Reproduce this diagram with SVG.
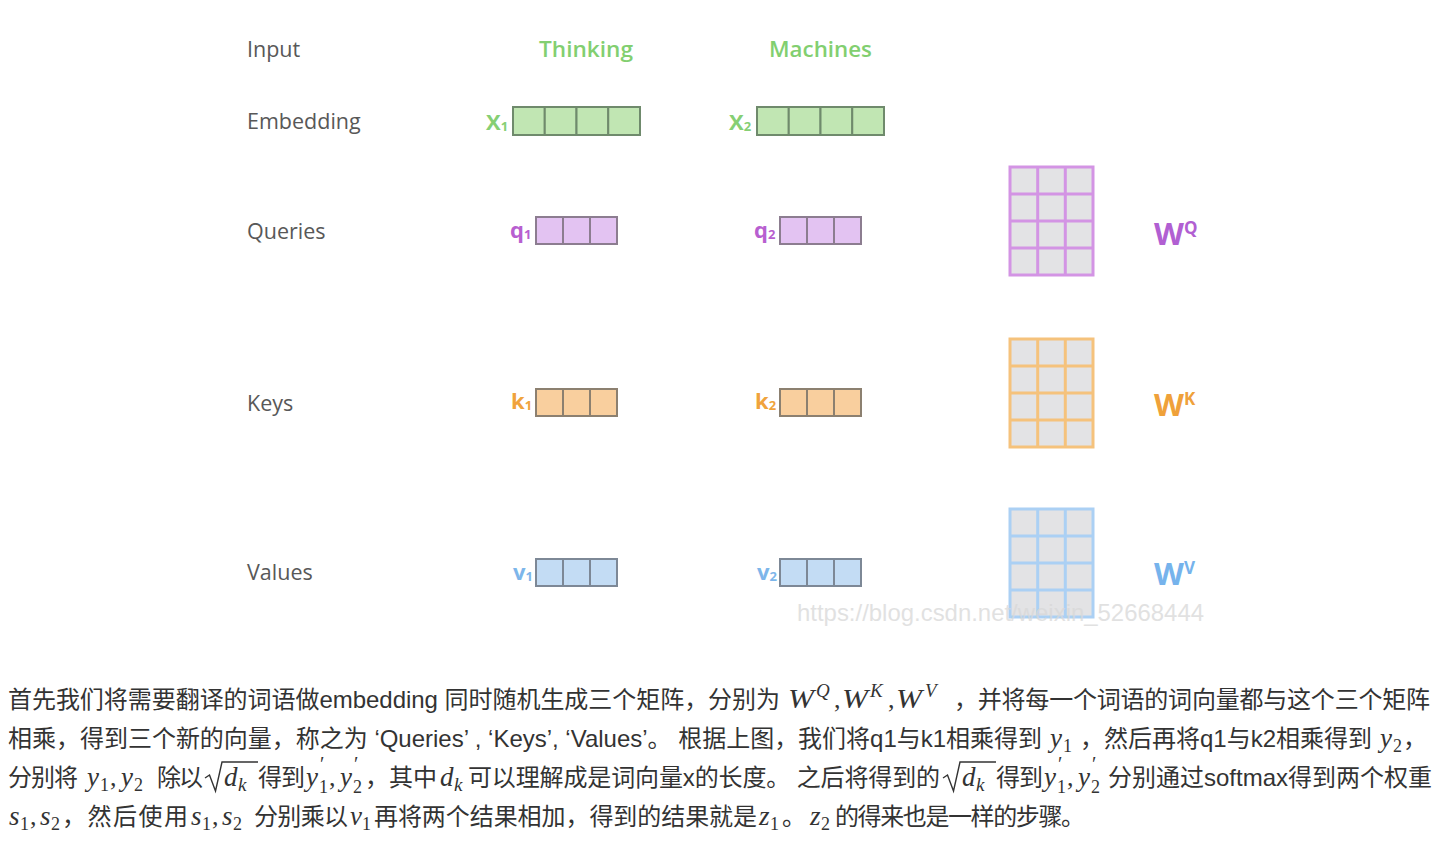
<svg xmlns="http://www.w3.org/2000/svg" width="1440" height="841" viewBox="0 0 1440 841">
<style>
.lbl{font-family:"Open Sans","Noto Sans",sans-serif;font-size:21.5px;font-weight:500;fill:#585858}
.word{font-family:"Open Sans","Noto Sans",sans-serif;font-size:22px;font-weight:600;fill:#82cf70}
.sym{font-family:"Open Sans","Noto Sans",sans-serif;font-weight:700;font-size:22px}
.sub{font-size:13px}
.cellG{fill:#c1e6b3;stroke:#6f8a6c;stroke-width:2}
.cellQ{fill:#e3c3f2;stroke:#8c7d90;stroke-width:2}
.cellK{fill:#f9cf9e;stroke:#8c8070;stroke-width:2}
.cellV{fill:#c3dcf4;stroke:#7d8896;stroke-width:2}
.mQ{fill:#e3e3e5;stroke:#d394e4;stroke-width:3}
.mK{fill:#e3e3e5;stroke:#f5c27c;stroke-width:3}
.mV{fill:#e3e3e5;stroke:#abd0f4;stroke-width:3}
.W{font-family:"Open Sans","Noto Sans",sans-serif;font-weight:700;font-size:31px}
.Wsup{font-size:17px}
.p{font-family:"Liberation Sans","Noto Sans CJK SC",sans-serif;font-size:24px;fill:#333}
.m{font-family:"Liberation Serif",serif;font-style:italic;font-size:27px;fill:#333}
.mc{font-family:"Liberation Serif",serif;font-size:26px;fill:#333}
.ms{font-family:"Liberation Serif",serif;font-size:18px;fill:#333}
.mi{font-family:"Liberation Serif",serif;font-style:italic;font-size:19px;fill:#333}
.pr{font-family:"Liberation Serif",serif;font-size:20px;fill:#333}
.rad{fill:none;stroke:#333;stroke-width:1.4;stroke-linejoin:miter}
.wm{font-family:"Liberation Sans",Arial,sans-serif;font-size:24px;fill:#d8d8d8;opacity:0.75}
</style>
<defs>
<g id="vec4">
<rect x="0" y="0" width="31.75" height="28"/>
<rect x="31.75" y="0" width="31.75" height="28"/>
<rect x="63.5" y="0" width="31.75" height="28"/>
<rect x="95.25" y="0" width="31.75" height="28"/>
</g>
<g id="vec3">
<rect x="0" y="0" width="27" height="27"/>
<rect x="27" y="0" width="27" height="27"/>
<rect x="54" y="0" width="27" height="27"/>
</g>
<g id="mat">
<rect x="0" y="0" width="83" height="108"/>
<path d="M27.7 0V108M55.3 0V108M0 27H83M0 54H83M0 81H83" fill="none"/>
</g>
</defs>

<g id="row-labels">
<text class="lbl" x="247" y="57">Input</text>
<text class="lbl" x="247" y="129">Embedding</text>
<text class="lbl" x="247" y="239">Queries</text>
<text class="lbl" x="247" y="411">Keys</text>
<text class="lbl" x="247" y="580">Values</text>
</g>

<g id="input-thinking"><text class="word" x="539" y="57" textLength="94" lengthAdjust="spacingAndGlyphs">Thinking</text></g>
<g id="input-machines"><text class="word" x="769" y="57" textLength="103" lengthAdjust="spacingAndGlyphs">Machines</text></g>

<g id="x1">
<text class="sym" x="486" y="130" fill="#86cf74">X<tspan class="sub" dy="1">1</tspan></text>
<use href="#vec4" x="513" y="107" class="cellG"/>
</g>
<g id="x2">
<text class="sym" x="729" y="130" fill="#86cf74">X<tspan class="sub" dy="1">2</tspan></text>
<use href="#vec4" x="757" y="107" class="cellG"/>
</g>

<g id="q1">
<text class="sym" x="510" y="238" fill="#b85fd0">q<tspan class="sub" dy="1">1</tspan></text>
<use href="#vec3" x="536" y="217" class="cellQ"/>
</g>
<g id="q2">
<text class="sym" x="754" y="238" fill="#b85fd0">q<tspan class="sub" dy="1">2</tspan></text>
<use href="#vec3" x="780" y="217" class="cellQ"/>
</g>
<g id="k1">
<text class="sym" x="511" y="409" fill="#f0a33c">k<tspan class="sub" dy="1">1</tspan></text>
<use href="#vec3" x="536" y="389" class="cellK"/>
</g>
<g id="k2">
<text class="sym" x="755" y="409" fill="#f0a33c">k<tspan class="sub" dy="1">2</tspan></text>
<use href="#vec3" x="780" y="389" class="cellK"/>
</g>
<g id="v1">
<text class="sym" x="513" y="580" fill="#7db6ea">v<tspan class="sub" dy="1">1</tspan></text>
<use href="#vec3" x="536" y="559" class="cellV"/>
</g>
<g id="v2">
<text class="sym" x="757" y="580" fill="#7db6ea">v<tspan class="sub" dy="1">2</tspan></text>
<use href="#vec3" x="780" y="559" class="cellV"/>
</g>

<g id="wq">
<use href="#mat" x="1010" y="167" class="mQ"/>
<text class="W" x="1154" y="245" fill="#b15fd2">W<tspan class="Wsup" dy="-11">Q</tspan></text>
</g>
<g id="wk">
<use href="#mat" x="1010" y="339" class="mK"/>
<text class="W" x="1154" y="416" fill="#efa13a">W<tspan class="Wsup" dy="-11">K</tspan></text>
</g>
<g id="wv">
<use href="#mat" x="1010" y="509" class="mV"/>
<text class="W" x="1154" y="585" fill="#76b3ec">W<tspan class="Wsup" dy="-11">V</tspan></text>
</g>

<g id="connectors"></g>

<g id="watermark">
<text class="wm" x="797" y="621" textLength="407" lengthAdjust="spacingAndGlyphs">https://blog.csdn.net/weixin_52668444</text>
</g>

<g id="paragraph">
<!-- line 1 -->
<text class="p" x="8" y="708" textLength="772" lengthAdjust="spacing">首先我们将需要翻译的词语做embedding 同时随机生成三个矩阵，分别为</text>
<text class="m" x="788" y="708" textLength="26" lengthAdjust="spacingAndGlyphs">W</text><text class="mi" x="816" y="697">Q</text>
<text class="mc" x="834" y="708">,</text>
<text class="m" x="842" y="708" textLength="26" lengthAdjust="spacingAndGlyphs">W</text><text class="mi" x="870" y="697">K</text>
<text class="mc" x="888" y="708">,</text>
<text class="m" x="896" y="708" textLength="26" lengthAdjust="spacingAndGlyphs">W</text><text class="mi" x="925" y="697">V</text>
<text class="p" x="954" y="708" textLength="476" lengthAdjust="spacing">，并将每一个词语的词向量都与这个三个矩阵</text>
<!-- line 2 -->
<text class="p" x="8" y="747" textLength="1034" lengthAdjust="spacing">相乘，得到三个新的向量，称之为 ‘Queries’ , ‘Keys’, ‘Values’。 根据上图，我们将q1与k1相乘得到</text>
<text class="m" x="1050" y="747">y</text><text class="ms" x="1063" y="752">1</text>
<text class="p" x="1080" y="747" textLength="292" lengthAdjust="spacing">，然后再将q1与k2相乘得到</text>
<text class="m" x="1380" y="747">y</text><text class="ms" x="1393" y="752">2</text>
<text class="p" x="1403" y="747">，</text>
<!-- line 3 -->
<text class="p" x="8" y="786" textLength="70" lengthAdjust="spacing">分别将</text>
<text class="m" x="87" y="786">y</text><text class="ms" x="100" y="791">1</text>
<text class="mc" x="110" y="786">,</text>
<text class="m" x="121" y="786">y</text><text class="ms" x="134" y="791">2</text>
<text class="p" x="157" y="786" textLength="46" lengthAdjust="spacing">除以</text>
<path class="rad" d="M205 778 L209.5 775 L215.5 791 L222 762 H258"/>
<text class="m" x="224" y="786">d</text><text class="mi" x="238" y="791">k</text>
<text class="p" x="258" y="786" textLength="47" lengthAdjust="spacing">得到</text>
<text class="m" x="306" y="786">y</text><text class="pr" x="320" y="771">′</text><text class="ms" x="319" y="793">1</text>
<text class="mc" x="329" y="786">,</text>
<text class="m" x="340" y="786">y</text><text class="pr" x="354" y="771">′</text><text class="ms" x="353" y="793">2</text>
<text class="p" x="365" y="786" textLength="72" lengthAdjust="spacing">，其中</text>
<text class="m" x="440" y="786">d</text><text class="mi" x="454" y="791">k</text>
<text class="p" x="468" y="786" textLength="472" lengthAdjust="spacing">可以理解成是词向量x的长度。 之后将得到的</text>
<path class="rad" d="M943 778 L947.5 775 L953.5 791 L960 762 H996"/>
<text class="m" x="962" y="786">d</text><text class="mi" x="976" y="791">k</text>
<text class="p" x="996" y="786" textLength="47" lengthAdjust="spacing">得到</text>
<text class="m" x="1044" y="786">y</text><text class="pr" x="1058" y="771">′</text><text class="ms" x="1057" y="793">1</text>
<text class="mc" x="1067" y="786">,</text>
<text class="m" x="1078" y="786">y</text><text class="pr" x="1092" y="771">′</text><text class="ms" x="1091" y="793">2</text>
<text class="p" x="1108" y="786" textLength="324" lengthAdjust="spacing">分别通过softmax得到两个权重</text>
<!-- line 4 -->
<text class="m" x="9" y="825">s</text><text class="ms" x="20" y="830">1</text>
<text class="mc" x="30" y="825">,</text>
<text class="m" x="40" y="825">s</text><text class="ms" x="51" y="830">2</text>
<text class="p" x="62" y="825" textLength="126" lengthAdjust="spacing">，然后使用</text>
<text class="m" x="191" y="825">s</text><text class="ms" x="202" y="830">1</text>
<text class="mc" x="212" y="825">,</text>
<text class="m" x="222" y="825">s</text><text class="ms" x="233" y="830">2</text>
<text class="p" x="254" y="825" textLength="94" lengthAdjust="spacing">分别乘以</text>
<text class="m" x="350" y="825">v</text><text class="ms" x="362" y="830">1</text>
<text class="p" x="374" y="825" textLength="383" lengthAdjust="spacing">再将两个结果相加，得到的结果就是</text>
<text class="m" x="759" y="825">z</text><text class="ms" x="770" y="830">1</text>
<text class="p" x="782" y="825">。</text>
<text class="m" x="810" y="825">z</text><text class="ms" x="821" y="830">2</text>
<text class="p" x="835" y="825" textLength="250" lengthAdjust="spacing">的得来也是一样的步骤。</text>
</g>
</svg>
